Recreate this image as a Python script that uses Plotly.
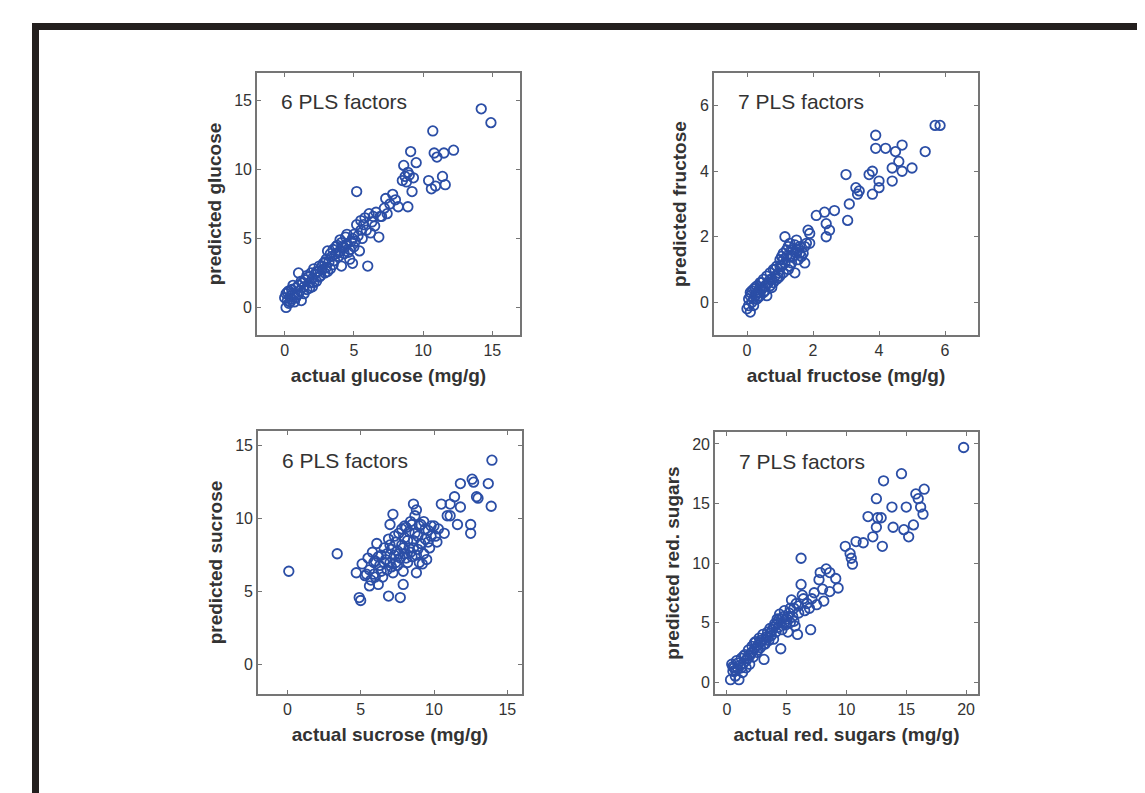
"""Four-panel PLS calibration scatter: predicted vs actual sugar content."""

import plotly.graph_objects as go

# %% data (actual, predicted) in mg/g
glucose_actual = [
    0.0, 0.1, 0.1, 0.2, 0.3, 0.3, 0.4, 0.5, 0.5, 0.6, 0.7, 0.8, 0.9, 1.0, 1.0, 1.1,
    1.2, 1.3, 1.4, 1.5, 1.6, 1.7, 1.8, 1.9, 2.0, 2.0, 2.1, 2.2, 2.3, 2.4, 2.5, 2.6,
    2.7, 2.8, 2.9, 3.0, 3.0, 3.1, 3.2, 3.3, 3.4, 3.5, 3.6, 3.7, 3.8, 3.9, 4.0, 4.0,
    4.1, 4.2, 4.3, 4.4, 4.5, 4.6, 4.7, 4.8, 4.9, 5.0, 5.0, 5.2, 5.3, 5.4, 5.5, 5.6,
    5.8, 5.9, 6.0, 6.1, 6.2, 6.4, 6.5, 6.8, 6.9, 7.2, 7.4, 7.6, 7.8, 8.0, 8.2, 8.5,
    8.6, 8.7, 8.9, 9.0, 9.1, 9.2, 9.3, 9.5, 5.2, 10.4, 10.6, 10.7, 10.8, 10.9, 11.0,
    11.4, 11.5, 11.6, 12.2, 14.2, 14.9,
    0.2, 0.4, 0.6, 0.8, 1.0, 1.2, 1.4, 1.6, 1.8, 2.1, 2.3, 2.5, 2.7, 2.9, 3.1, 3.3,
    3.5, 3.7, 3.9, 4.1, 4.3, 4.5, 4.7, 4.9, 5.1, 5.5, 5.7, 6.3, 6.6, 7.0, 7.3, 8.8,
    8.9,
]
glucose_pred = [
    0.7, 0.0, 1.0, 0.5, 0.3, 1.2, 0.8, 0.6, 1.3, 1.0, 0.4, 1.4, 0.9, 2.5, 1.6, 1.2,
    0.5, 1.8, 1.5, 2.0, 1.3, 2.2, 1.8, 2.5, 1.5, 2.1, 2.8, 2.4, 1.9, 2.6, 3.0, 2.3,
    2.7, 3.2, 2.5, 3.5, 2.9, 4.1, 3.3, 2.8, 3.7, 4.2, 3.4, 3.9, 4.5, 3.7, 4.9, 4.1,
    3.0, 4.4, 3.9, 5.1, 4.6, 4.0, 3.5, 4.8, 3.2, 5.3, 4.4, 6.0, 5.2, 4.1, 6.3, 5.0,
    6.5, 5.6, 3.0, 6.8, 5.4, 6.6, 5.9, 5.1, 6.6, 7.2, 6.8, 7.5, 8.2, 7.8, 7.3, 9.2,
    10.3, 9.5, 7.3, 9.6, 11.3, 8.4, 9.4, 10.5, 8.4, 9.2, 8.6, 12.8, 11.2, 8.8, 10.9,
    9.5, 11.2, 8.9, 11.4, 14.4, 13.4,
    1.1, 0.4, 1.6, 0.7, 1.0, 1.9, 1.0, 2.3, 1.4, 1.8, 2.6, 2.2, 3.0, 3.3, 2.6, 3.9,
    3.1, 4.4, 4.0, 4.7, 4.3, 5.3, 4.2, 5.0, 4.8, 5.6, 6.0, 6.2, 6.9, 6.6, 7.9, 9.1,
    9.8,
]

fructose_actual = [
    0.0, 0.05, 0.1, 0.1, 0.15, 0.2, 0.2, 0.25, 0.3, 0.3, 0.35, 0.4, 0.4, 0.45, 0.5,
    0.5, 0.55, 0.6, 0.6, 0.65, 0.7, 0.7, 0.75, 0.8, 0.8, 0.85, 0.9, 0.9, 0.95, 1.0,
    1.0, 1.05, 1.1, 1.1, 1.15, 1.15, 1.2, 1.25, 1.3, 1.3, 1.35, 1.4, 1.45, 1.5, 1.5,
    1.55, 1.6, 1.7, 1.75, 1.8, 1.85, 1.9, 1.9, 2.1, 2.35, 2.4, 2.5, 2.4, 2.65, 3.0,
    3.05, 3.1, 3.3, 3.35, 3.4, 3.8, 3.7, 3.8, 3.9, 3.9, 4.0, 4.0, 4.2, 4.4, 4.4, 4.5,
    4.6, 4.7, 4.7, 5.0, 5.4, 5.7, 5.85,
    0.05, 0.1, 0.15, 0.2, 0.25, 0.3, 0.35, 0.4, 0.45, 0.55, 0.6, 0.7, 0.75, 0.85,
    0.95, 1.0, 1.05, 1.1, 1.2, 1.25, 1.3, 1.35, 1.4, 1.45, 1.6, 1.65, 1.75, 1.55,
]
fructose_pred = [
    -0.2, 0.1, -0.3, 0.3, 0.0, 0.4, -0.1, 0.2, 0.5, 0.1, 0.3, 0.6, 0.2, 0.4, 0.7,
    0.3, 0.5, 0.2, 0.8, 0.6, 0.9, 0.5, 0.7, 1.0, 0.6, 0.8, 1.1, 0.7, 0.9, 1.3,
    0.8, 1.1, 1.5, 0.9, 2.0, 1.2, 1.6, 1.0, 1.4, 1.8, 1.2, 1.6, 0.9, 1.5, 1.9,
    1.3, 1.7, 1.5, 1.2, 1.8, 2.2, 2.1, 1.8, 2.65, 2.75, 2.4, 2.2, 2.0, 2.8, 3.9,
    2.5, 3.0, 3.5, 3.3, 3.4, 3.3, 3.9, 4.0, 5.1, 4.7, 3.7, 3.5, 4.7, 4.1, 3.7, 4.6,
    4.3, 4.8, 4.0, 4.1, 4.6, 5.4, 5.4,
    -0.1, 0.2, 0.35, 0.1, 0.45, 0.3, 0.15, 0.45, 0.6, 0.35, 0.55, 0.7, 0.45, 1.0,
    0.75, 1.1, 1.4, 1.3, 1.4, 1.7, 1.1, 1.6, 1.4, 1.75, 1.5, 1.4, 1.7, 1.6,
]

sucrose_actual = [
    0.1, 3.4, 4.7, 4.9, 5.0, 5.1, 5.3, 5.5, 5.6, 5.7, 5.8, 5.9, 6.0, 6.1, 6.2, 6.3,
    6.4, 6.5, 6.6, 6.7, 6.8, 6.9, 6.9, 7.0, 7.0, 7.1, 7.2, 7.2, 7.3, 7.4, 7.5, 7.5,
    7.6, 7.7, 7.7, 7.8, 7.9, 7.9, 8.0, 8.0, 8.1, 8.2, 8.3, 8.4, 8.5, 8.6, 8.6, 8.7,
    8.8, 8.8, 8.9, 9.0, 9.1, 9.2, 9.3, 9.4, 9.5, 9.6, 9.7, 9.8, 10.0, 10.2, 10.5,
    10.7, 10.9, 11.1, 11.1, 11.4, 11.6, 11.8, 11.8, 12.5, 12.5, 12.6, 12.7, 12.9,
    13.0, 13.7, 13.9, 13.95,
    6.2, 6.4, 6.6, 6.8, 7.0, 7.1, 7.3, 7.4, 7.6, 7.8, 7.9, 8.0, 8.1, 8.2, 8.3, 8.4,
    8.5, 8.6, 8.7, 8.8, 8.9, 9.0, 9.1, 9.3, 9.4, 9.6, 9.8, 10.1, 10.3, 5.4, 5.6,
    5.9, 6.0,
]
sucrose_pred = [
    6.4, 7.6, 6.3, 4.6, 4.4, 6.9, 6.1, 7.3, 6.5, 5.8, 7.7, 6.2, 7.1, 8.3, 5.5, 6.8,
    7.5, 6.0, 8.0, 7.2, 6.5, 4.7, 8.6, 9.6, 7.0, 7.9, 10.3, 6.3, 7.5, 8.4, 6.8, 7.8,
    9.0, 4.6, 7.3, 8.2, 5.5, 6.4, 8.7, 7.6, 9.4, 7.0, 8.0, 9.8, 7.4, 8.5, 11.0, 9.0,
    6.3, 10.6, 7.9, 9.5, 8.3, 6.9, 9.8, 8.6, 7.2, 9.2, 8.0, 8.8, 9.5, 8.4, 11.0,
    9.0, 10.2, 11.0, 10.2, 11.5, 9.6, 10.8, 12.4, 9.6, 9.0, 12.7, 12.5, 11.5,
    11.4, 12.4, 10.85, 14.0,
    7.4, 6.4, 7.0, 7.6, 8.2, 6.7, 8.8, 7.0, 7.6, 9.3, 8.0, 9.5, 7.3, 8.5, 9.1, 7.7,
    9.6, 8.0, 10.2, 7.5, 8.8, 7.0, 9.6, 7.6, 9.3, 8.4, 9.5, 8.8, 9.3, 6.2, 5.4,
    7.0, 6.0,
]

redsug_actual = [
    0.3, 0.4, 0.5, 0.6, 0.7, 0.8, 0.9, 1.0, 1.1, 1.2, 1.3, 1.4, 1.5, 1.6, 1.7, 1.8,
    1.9, 2.0, 2.1, 2.2, 2.3, 2.4, 2.5, 2.6, 2.7, 2.8, 2.9, 3.0, 3.1, 3.2, 3.3, 3.4,
    3.5, 3.6, 3.7, 3.8, 3.9, 4.0, 4.1, 4.2, 4.3, 4.4, 4.5, 4.5, 4.6, 4.7, 4.8, 4.9,
    5.0, 5.1, 5.2, 5.3, 5.4, 5.5, 5.6, 5.7, 5.9, 6.0, 6.2, 6.2, 6.3, 6.4, 6.5, 6.7,
    6.9, 7.0, 7.1, 7.3, 7.5, 7.7, 7.8, 8.0, 8.1, 8.3, 8.6, 8.6, 9.1, 9.3, 9.9, 10.3,
    10.4, 10.5, 10.8, 11.4, 11.8, 12.2, 12.5, 12.5, 12.6, 12.9, 13.0, 13.1, 13.8,
    13.9, 14.6, 14.8, 15.0, 15.2, 15.6, 15.8, 16.0, 16.2, 16.4, 16.5, 19.8,
    0.5, 0.7, 0.9, 1.2, 1.4, 1.6, 1.9, 2.1, 2.3, 2.6, 2.8, 3.1, 3.4, 3.6, 3.9, 4.1,
    4.3, 4.6, 4.8, 5.1, 5.3, 5.6, 5.8, 6.0,
]
redsug_pred = [
    0.2, 1.5, 0.9, 1.2, 0.5, 1.8, 1.1, 0.2, 1.4, 2.0, 0.8, 1.6, 2.3, 1.2, 2.0, 2.7,
    1.5, 2.4, 3.0, 2.1, 2.8, 3.4, 2.5, 3.1, 3.7, 2.9, 3.4, 4.0, 1.9, 3.2, 3.8, 4.2,
    3.5, 4.5, 3.9, 4.4, 3.6, 4.9, 4.2, 5.3, 4.6, 5.7, 2.8, 5.0, 4.4, 5.5, 6.0, 4.8,
    5.3, 4.2, 5.8, 5.0, 6.9, 5.5, 6.2, 4.7, 4.0, 5.8, 10.4, 8.2, 7.3, 7.0, 6.0, 6.6,
    6.2, 4.4, 7.0, 7.5, 6.5, 8.6, 9.2, 7.8, 6.8, 9.5, 9.2, 7.6, 8.7, 7.9, 11.4, 10.8,
    10.4, 9.9, 11.8, 11.7, 13.9, 12.2, 15.4, 13.0, 13.8, 13.8, 11.4, 16.9, 14.7,
    13.0, 17.5, 12.8, 14.7, 12.2, 13.2, 15.8, 15.4, 14.7, 14.1, 16.2, 19.7,
    1.3, 1.0, 1.6, 1.2, 2.2, 1.8, 2.2, 2.5, 3.3, 2.7, 3.5, 3.2, 3.7, 4.1, 4.6, 4.8,
    5.2, 5.3, 5.0, 5.5, 6.2, 5.1, 6.6, 6.4,
]

panels = [
    # name, x, y, factors label, axis ranges, tick step
    ("glucose", glucose_actual, glucose_pred, "6 PLS factors", [-2, 17], [-2, 17], 5),
    ("fructose", fructose_actual, fructose_pred, "7 PLS factors", [-1, 7], [-1, 7], 2),
    ("sucrose", sucrose_actual, sucrose_pred, "6 PLS factors", [-2, 16], [-2, 16], 5),
    ("red. sugars", redsug_actual, redsug_pred, "7 PLS factors", [-1, 21], [-1, 21], 5),
]

# %% layout boxes in page pixels (left, right, top, bottom)
# the html body has an 8px margin, so the figure is offset by that much
OFF = 8
W, H = 1145 - OFF, 793 - OFF
boxes = [(257, 520, 73, 335), (714, 978, 73, 335), (258, 522, 431, 694), (715, 978, 432, 694)]

MARKER = "#2b4ea6"
TEXT = "#333333"
AXIS = "#757575"
FONT = "Liberation Sans, Arial, sans-serif"


def px_x(v):
    return (v - OFF) / W


def px_y(v):
    return 1 - (v - OFF) / H


fig = go.Figure()
layout_axes = {}
for i, ((name, xs, ys, label, xr, yr, step), (l, r, t, b)) in enumerate(zip(panels, boxes), 1):
    suffix = "" if i == 1 else str(i)
    fig.add_trace(
        go.Scatter(
            x=xs,
            y=ys,
            mode="markers",
            xaxis=f"x{suffix}",
            yaxis=f"y{suffix}",
            marker={
                "symbol": "circle-open",
                "size": 9.5,
                "color": MARKER,
                "line": {"width": 1.8, "color": MARKER},
            },
            showlegend=False,
            hoverinfo="x+y",
        )
    )
    common = {
        "showgrid": False,
        "zeroline": False,
        "showline": True,
        "linecolor": AXIS,
        "linewidth": 1.7,
        "mirror": "allticks",
        "ticks": "inside",
        "ticklen": 4,
        "tickcolor": AXIS,
        "tickfont": {"size": 16, "color": TEXT, "family": FONT},
        "dtick": step,
        "tick0": 0,
    }
    layout_axes[f"xaxis{suffix}"] = dict(
        common,
        domain=[px_x(l), px_x(r)],
        range=xr,
        anchor=f"y{suffix}",
        title={
            "text": f"<b>actual {name} (mg/g)</b>",
            "font": {"size": 19, "color": TEXT, "family": FONT},
            "standoff": 11,
        },
    )
    layout_axes[f"yaxis{suffix}"] = dict(
        common,
        domain=[px_y(b), px_y(t)],
        range=yr,
        anchor=f"x{suffix}",
        title={
            "text": f"<b>predicted {name}</b>",
            "font": {"size": 19, "color": TEXT, "family": FONT},
            "standoff": 8,
        },
    )
    fig.add_annotation(
        x=px_x(l + 22),
        y=px_y(t + 29),
        xref="paper",
        yref="paper",
        text=label,
        showarrow=False,
        xanchor="left",
        yanchor="middle",
        font={"size": 21, "color": TEXT, "family": FONT},
    )

# black frame of the scanned page (top and left edges)
fig.add_shape(type="rect", xref="paper", yref="paper", x0=px_x(32), x1=1, y0=px_y(30), y1=px_y(23),
              fillcolor="#231f1e", line={"width": 0}, layer="above")
fig.add_shape(type="rect", xref="paper", yref="paper", x0=px_x(32), x1=px_x(39), y0=0, y1=px_y(23),
              fillcolor="#231f1e", line={"width": 0}, layer="above")

fig.update_layout(
    width=W,
    height=H,
    margin={"l": 0, "r": 0, "t": 0, "b": 0},
    paper_bgcolor="white",
    plot_bgcolor="white",
    font={"family": FONT, "color": TEXT},
    **layout_axes,
)

fig.write_html("out.html")
